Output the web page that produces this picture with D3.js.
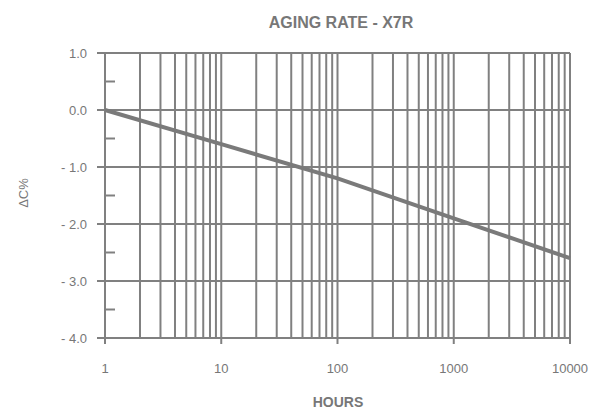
<!DOCTYPE html>
<html>
<head>
	<script src="https://d3js.org/d3.v7.min.js"></script>
	<meta charset="UTF-8">
	<style>
		body{ margin:0; background:#fff; }
		text{ font-family:"Liberation Sans", Arial, sans-serif; fill:#777; }
	</style>
</head>
<body>
	<div class="chart"></div>
	<script type="text/javascript">
		// data
		var hours = [1, 10, 100, 1000, 10000];
		var deltaC = [0.0, -0.6, -1.2, -1.9, -2.6];
		var yTicks = [1, 0, -1, -2, -3, -4];
		var yMinor = [0.5, -0.5, -1.5, -2.5, -3.5];
		var xLabels = ["1", "10", "100", "1000", "10000"];

		var W = 607, H = 413;
		var l = 105, r = 570, t = 53, b = 338;
		var grey = "#808080";

		var svg = d3.select("div.chart").append("svg")
					.attr("width", W).attr("height", H);

		var x = d3.scaleLog().domain([1, 10000]).range([l, r]);
		var y = d3.scaleLinear().domain([-4, 1]).range([b, t]);

		// vertical grid, 1..9 per decade
		var vgrid = [];
		for(var d = 1; d < 10000; d *= 10){
			for(var k = 2; k <= 10; k++) vgrid.push(d * k);
		}
		svg.selectAll("line.v").data(vgrid).enter().append("line")
		   .attr("x1", function(d){ return x(d); }).attr("x2", function(d){ return x(d); })
		   .attr("y1", t).attr("y2", b)
		   .attr("stroke", grey).attr("stroke-width", 2);

		// horizontal grid
		svg.selectAll("line.h").data(yTicks).enter().append("line")
		   .attr("x1", l - 8).attr("x2", r)
		   .attr("y1", function(d){ return y(d); }).attr("y2", function(d){ return y(d); })
		   .attr("stroke", grey).attr("stroke-width", 2);

		// minor y ticks
		svg.selectAll("line.m").data(yMinor).enter().append("line")
		   .attr("x1", l).attr("x2", l + 10)
		   .attr("y1", function(d){ return y(d); }).attr("y2", function(d){ return y(d); })
		   .attr("stroke", grey).attr("stroke-width", 2);

		// left axis line
		svg.append("line").attr("x1", l).attr("x2", l).attr("y1", t).attr("y2", b)
		   .attr("stroke", grey).attr("stroke-width", 2);

		// decade ticks below axis
		svg.selectAll("line.d").data(hours).enter().append("line")
		   .attr("x1", function(d){ return x(d); }).attr("x2", function(d){ return x(d); })
		   .attr("y1", b).attr("y2", b + 6)
		   .attr("stroke", grey).attr("stroke-width", 2);

		// y labels
		svg.selectAll("text.yl").data(yTicks).enter().append("text")
		   .attr("x", 87).attr("y", function(d){ return y(d) + 5; })
		   .attr("text-anchor", "end").style("font-size", "13px")
		   .text(function(d){ return d < 0 ? "- " + Math.abs(d).toFixed(1) : d.toFixed(1); });

		// x labels
		svg.selectAll("text.xl").data(hours).enter().append("text")
		   .attr("x", function(d){ return x(d); }).attr("y", 373)
		   .attr("text-anchor", "middle").style("font-size", "13px")
		   .text(function(d, i){ return xLabels[i]; });

		// aging line
		var line = d3.line().x(function(d, i){ return x(hours[i]); }).y(function(d){ return y(d); });
		svg.append("path").datum(deltaC).attr("d", line)
		   .attr("fill", "none").attr("stroke", "#7a7a7a").attr("stroke-width", 4);

		// titles
		svg.append("text").attr("x", 341).attr("y", 28).attr("text-anchor", "middle")
		   .style("font-size", "16px").style("font-weight", "bold").text("AGING RATE - X7R");
		svg.append("text").attr("x", 338).attr("y", 407).attr("text-anchor", "middle")
		   .style("font-size", "14px").style("font-weight", "bold").text("HOURS");
		svg.append("text").attr("transform", "translate(28,193) rotate(-90)")
		   .attr("text-anchor", "middle").style("font-size", "13px").text("ΔC%");
	</script>
</body>
</html>
